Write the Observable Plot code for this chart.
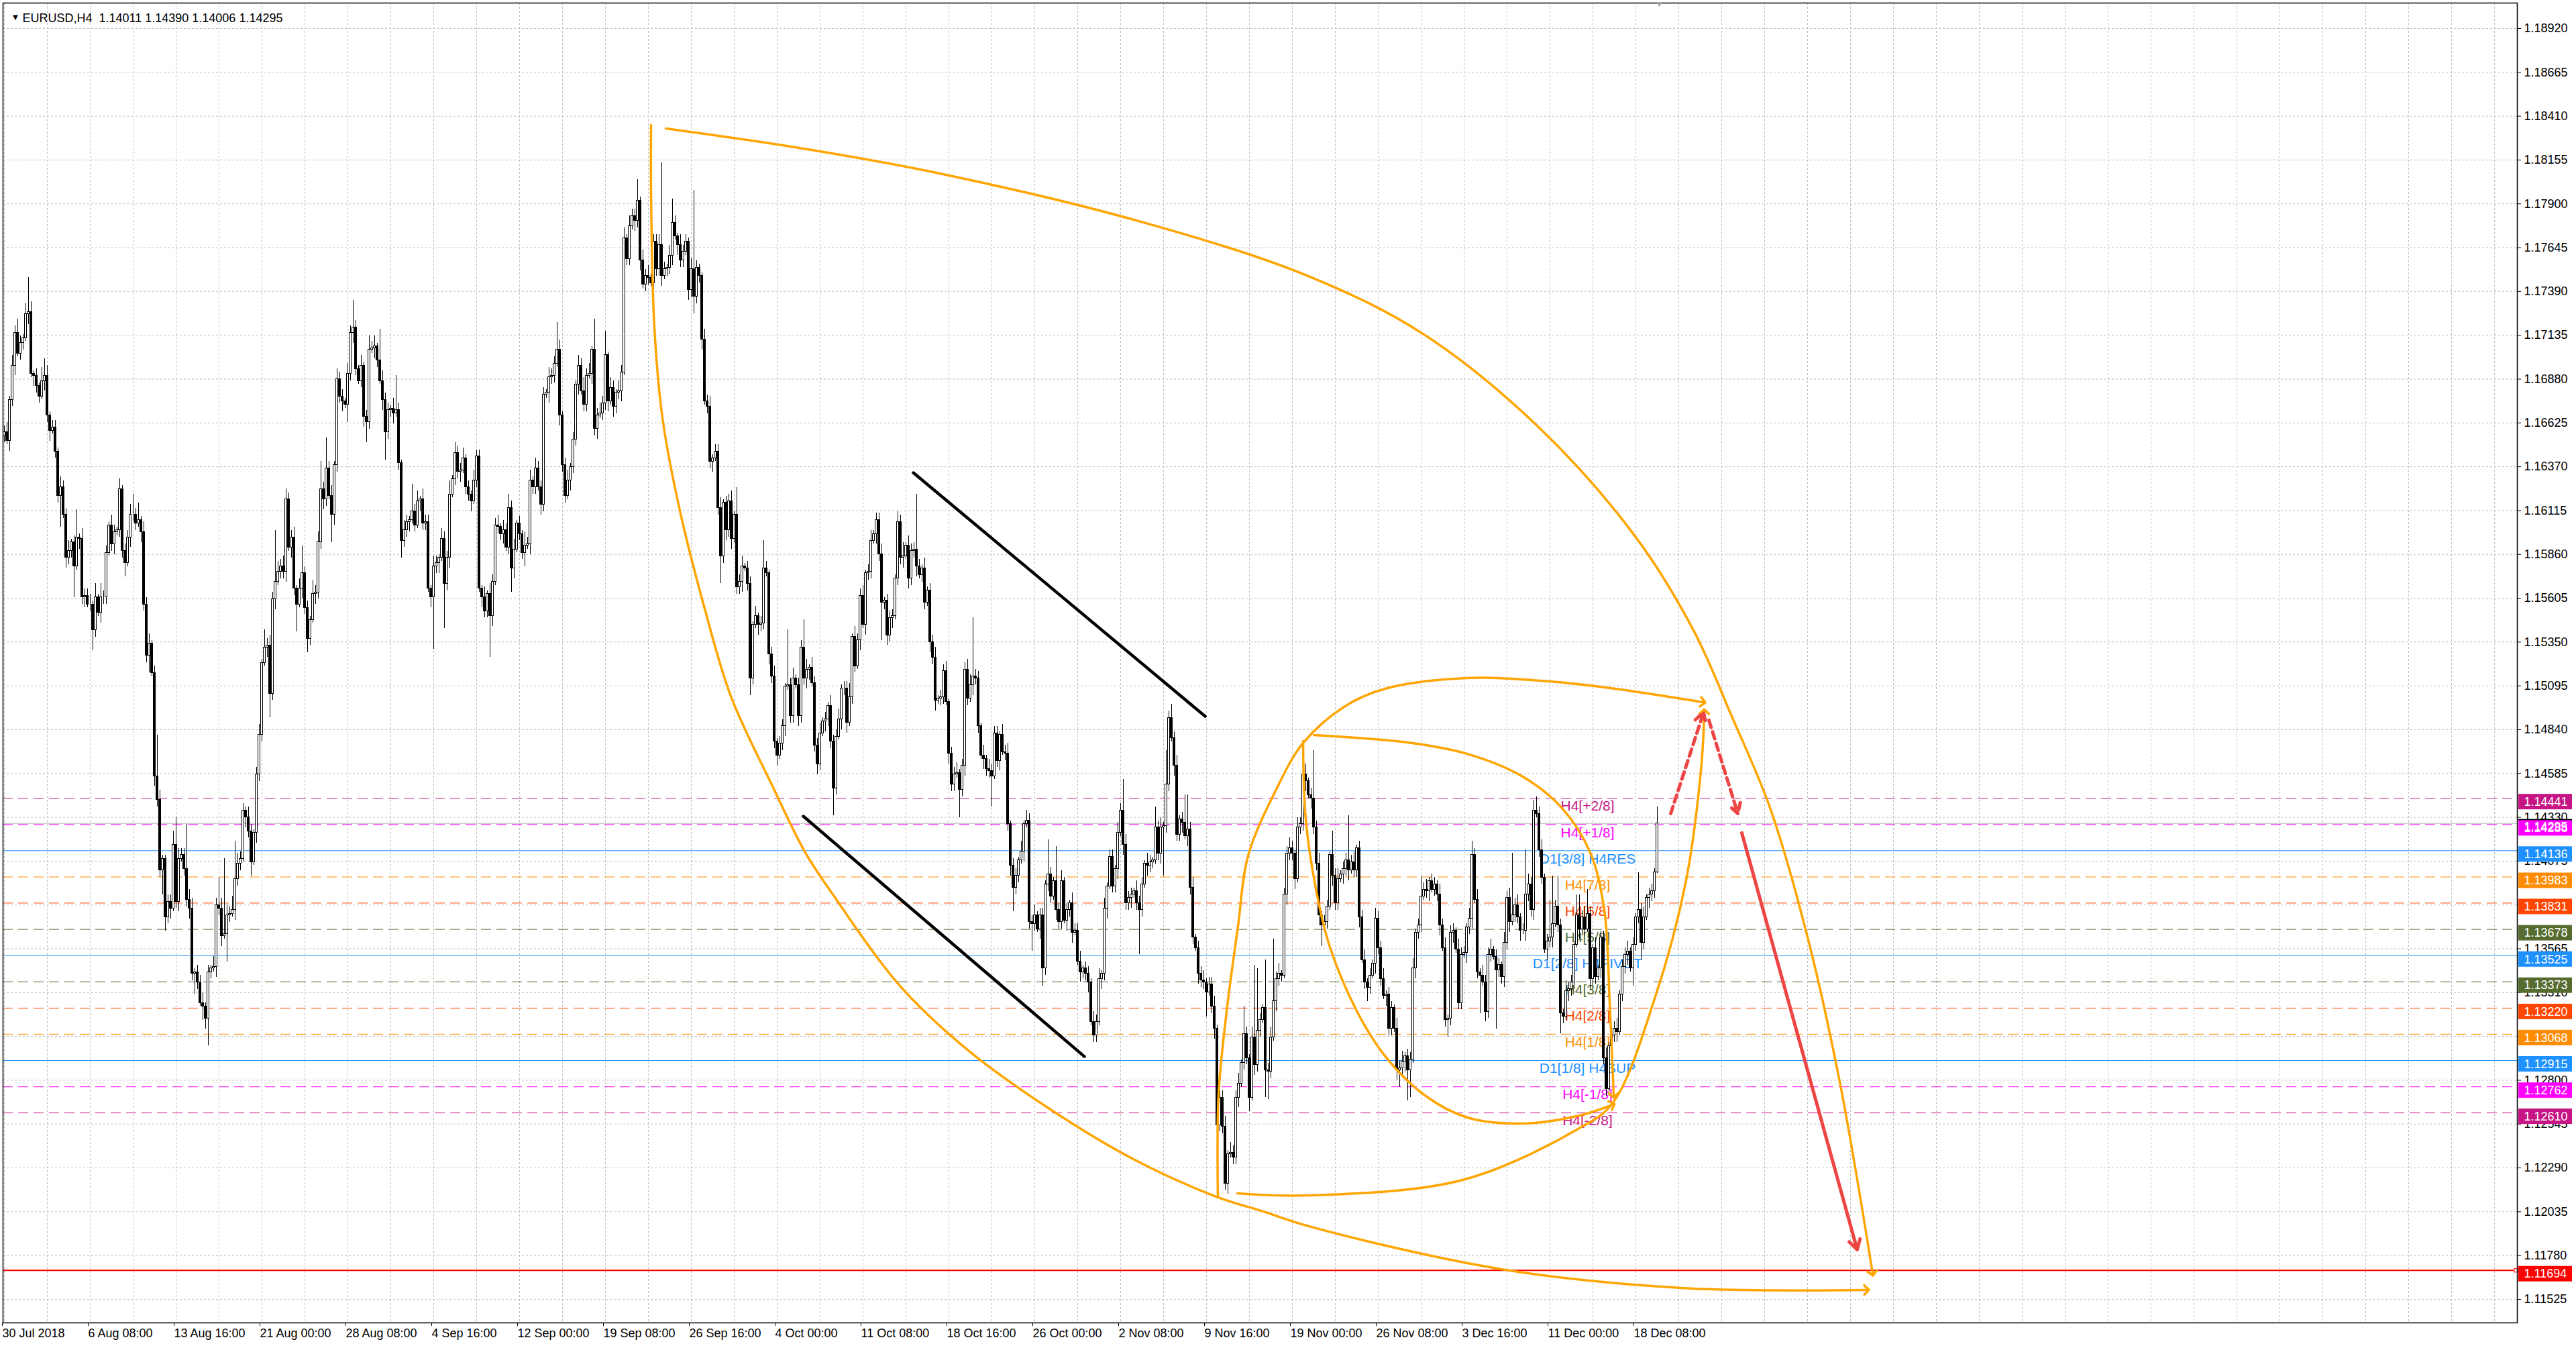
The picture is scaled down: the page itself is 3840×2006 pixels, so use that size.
<!DOCTYPE html>
<html>
<head>
<meta charset="utf-8">
<script src="https://cdn.jsdelivr.net/npm/d3@7"></script>
<script src="https://cdn.jsdelivr.net/npm/@observablehq/plot@0.6"></script>
<style>
html,body{margin:0;padding:0;background:#fff;}
#chart svg{display:block;}
</style>
</head>
<body>
<div id="chart"></div>
<script>
// ---------------- DATA ----------------
const symbolTitle = "EURUSD,H4";
const lastOHLC = [1.14011, 1.14390, 1.14006, 1.14295];
const firstOpen = 1.1655;

// H4 closes, bar 0 = 30 Jul 2018 00:00
const closes = [
1.1657,1.1652,1.1676,1.1696,1.1715,1.1703,1.1709,1.1712,1.1726,1.1727,
1.1691,1.1690,1.1684,1.1678,1.1687,1.1690,1.1667,1.1658,1.1660,1.1646,
1.1620,1.1625,1.1609,1.1584,1.1588,1.1593,1.1579,1.1596,1.1595,1.1561,
1.1562,1.1557,1.1557,1.1542,1.1561,1.1552,1.1561,1.1561,1.1587,1.1603,
1.1592,1.1599,1.1600,1.1624,1.1588,1.1581,1.1596,1.1609,1.1609,1.1604,
1.1606,1.1599,1.1557,1.1527,1.1534,1.1517,1.1457,1.1443,1.1402,1.1409,
1.1375,1.1384,1.1380,1.1417,1.1384,1.1409,1.1411,1.1403,1.1385,1.1380,
1.1342,1.1343,1.1337,1.1325,1.1323,1.1316,1.1343,1.1345,1.1346,1.1382,
1.1380,1.1364,1.1365,1.1376,1.1377,1.1379,1.1397,1.1406,1.1409,1.1437,
1.1433,1.1425,1.1407,1.1424,1.1458,1.1481,1.1523,1.1532,1.1533,1.1505,
1.1560,1.1570,1.1576,1.1579,1.1576,1.1618,1.1590,1.1596,1.1566,1.1557,
1.1566,1.1575,1.1555,1.1537,1.1548,1.1563,1.1564,1.1593,1.1624,1.1618,
1.1636,1.1620,1.1609,1.1638,1.1688,1.1678,1.1675,1.1673,1.1691,1.1715,
1.1718,1.1694,1.1687,1.1696,1.1666,1.1663,1.1705,1.1706,1.1707,1.1699,
1.1687,1.1676,1.1657,1.1670,1.1671,1.1668,1.1670,1.1639,1.1594,1.1600,
1.1605,1.1606,1.1611,1.1603,1.1617,1.1618,1.1604,1.1605,1.1566,1.1561,
1.1579,1.1581,1.1584,1.1595,1.1569,1.1584,1.1621,1.1630,1.1645,1.1634,
1.1635,1.1642,1.1625,1.1621,1.1617,1.1629,1.1643,1.1566,1.1561,1.1553,
1.1563,1.1550,1.1570,1.1603,1.1602,1.1598,1.1600,1.1590,1.1613,1.1578,
1.1589,1.1604,1.1598,1.1587,1.1591,1.1592,1.1629,1.1625,1.1636,1.1625,
1.1615,1.1679,1.1680,1.1689,1.1690,1.1697,1.1705,1.1667,1.1638,1.1620,
1.1629,1.1637,1.1653,1.1685,1.1696,1.1681,1.1673,1.1690,1.1691,1.1705,
1.1659,1.1667,1.1668,1.1674,1.1702,1.1675,1.1683,1.1672,1.1680,1.1681,
1.1692,1.1770,1.1758,1.1777,1.1783,1.1780,1.1792,1.1757,1.1743,1.1748,
1.1747,1.1744,1.1768,1.1752,1.1766,1.1748,1.1752,1.1753,1.1760,1.1779,
1.1771,1.1766,1.1757,1.1762,1.1768,1.1740,1.1752,1.1736,1.1753,1.1748,
1.1711,1.1675,1.1672,1.1640,1.1642,1.1646,1.1613,1.1585,1.1616,1.1600,
1.1617,1.1595,1.1609,1.1567,1.1570,1.1579,1.1578,1.1569,1.1514,1.1545,
1.1550,1.1545,1.1546,1.1578,1.1575,1.1528,1.1515,1.1477,1.1469,1.1476,
1.1486,1.1509,1.1510,1.1492,1.1514,1.1510,1.1492,1.1532,1.1514,1.1519,
1.1520,1.1511,1.1475,1.1464,1.1482,1.1489,1.1490,1.1498,1.1477,1.1450,
1.1480,1.1490,1.1508,1.1508,1.1488,1.1503,1.1538,1.1521,1.1536,1.1562,
1.1545,1.1575,1.1576,1.1594,1.1598,1.1606,1.1586,1.1558,1.1559,1.1539,
1.1549,1.1550,1.1572,1.1605,1.1584,1.1585,1.1591,1.1572,1.1588,1.1589,
1.1579,1.1574,1.1578,1.1558,1.1565,1.1535,1.1526,1.1501,1.1502,1.1503,
1.1518,1.1500,1.1470,1.1452,1.1458,1.1459,1.1449,1.1463,1.1519,1.1502,
1.1510,1.1515,1.1514,1.1486,1.1469,1.1467,1.1461,1.1460,1.1457,1.1482,
1.1466,1.1481,1.1471,1.1470,1.1429,1.1405,1.1392,1.1399,1.1408,1.1413,
1.1429,1.1431,1.1372,1.1371,1.1376,1.1368,1.1376,1.1345,1.1394,1.1400,
1.1387,1.1396,1.1379,1.1372,1.1396,1.1373,1.1379,1.1383,1.1366,1.1367,
1.1349,1.1343,1.1345,1.1342,1.1337,1.1314,1.1306,1.1314,1.1339,1.1342,
1.1380,1.1393,1.1410,1.1393,1.1403,1.1424,1.1437,1.1417,1.1383,1.1386,
1.1388,1.1390,1.1383,1.1379,1.1394,1.1406,1.1405,1.1407,1.1408,1.1427,
1.1412,1.1427,1.1428,1.1452,1.1491,1.1479,1.1463,1.1423,1.1432,1.1430,
1.1422,1.1426,1.1392,1.1363,1.1357,1.1342,1.1338,1.1337,1.1331,1.1336,
1.1323,1.1310,1.1254,1.1270,1.1253,1.1220,1.1237,1.1238,1.1235,1.1270,
1.1278,1.1290,1.1307,1.1293,1.1270,1.1305,1.1289,1.1309,1.1315,1.1322,
1.1286,1.1285,1.1305,1.1326,1.1339,1.1342,1.1341,1.1388,1.1412,1.1415,
1.1412,1.1397,1.1427,1.1429,1.1458,1.1454,1.1446,1.1444,1.1427,1.1406,
1.1376,1.1370,1.1372,1.1381,1.1411,1.1399,1.1383,1.1397,1.1400,1.1403,
1.1408,1.1402,1.1407,1.1402,1.1415,1.1375,1.1350,1.1337,1.1334,1.1341,
1.1348,1.1374,1.1357,1.1339,1.1329,1.1330,1.1310,1.1322,1.1310,1.1286,
1.1287,1.1291,1.1294,1.1286,1.1292,1.1345,1.1366,1.1370,1.1387,1.1391,
1.1390,1.1396,1.1391,1.1394,1.1388,1.1370,1.1357,1.1315,1.1316,1.1366,
1.1367,1.1356,1.1325,1.1353,1.1354,1.1369,1.1374,1.1411,1.1385,1.1343,
1.1341,1.1337,1.1320,1.1353,1.1356,1.1352,1.1344,1.1347,1.1340,1.1360,
1.1386,1.1372,1.1376,1.1382,1.1375,1.1367,1.1367,1.1388,1.1394,1.1379,
1.1437,1.1435,1.1414,1.1398,1.1356,1.1361,1.1363,1.1371,1.1381,1.1370,
1.1319,1.1317,1.1332,1.1333,1.1337,1.1359,1.1376,1.1368,1.1375,1.1368,
1.1377,1.1339,1.1357,1.1340,1.1345,1.1363,1.1293,1.1275,1.1300,1.1306,
1.1310,1.1308,1.1330,1.1346,1.1353,1.1355,1.1345,1.1359,1.1375,1.1379,
1.1360,1.1375,1.1386,1.1388,1.1390,1.14011,1.14295
];

// wick lengths per bar, base-36 digit, unit = 2 pips
const wickUp =
"231324213a 3121453122 1322312813 2231414221 3213122362 5132312c31 12248322d3 3122312132 83m324b322 1321231523 " +
"2f32332231 3822142382 9231322132 8213124231 932213a213 2182313221 3213224132 2312132213 1322313242 3121423132 " +
"2213228312 3121324231 9232713213 2313226132 31223o2137 2132213n21 1323122312 2318231221 3128212312 21g2312283 " +
"1322312132 2312241322 3123122312 2213241322 g213122312 2312231223 3h22131322 2132312213 132231221a 21a2312132 " +
"2312213231 3122132932 2132213216 231a242312 8a23122312 2312231322 318213li21 e23i231223 21329312e2 3122172312 " +
"2d23122312 1322312213 2312231262 3122132312 2132213423 1322312213 23i2312d32 342312be29 2132216623 7213122312 " +
"231223121b 2312215";
const wickDown =
"2132312213 1322132312 2913229132 3126213221 2312241322 1322513227 4231231223 2621438213 2318213221 3241322137 " +
"2312231328 1324213223 2183223152 3212362132 1382231252 2312132213 f231d23122 3122312132 2c31223127 3122413221 " +
"3213221322 1322312213 2312231322 3122132312 21a2231223 1322132522 3122312823 2312231252 1322132231 2312213223 " +
"3123213228 2132312213 1322132b23 2312231322 3122132312 2132218232 1322132291 2312237221 3128213522 2132213231 " +
"1322312213 2312231322 312d213221 23e2213223 1322132271 2372223122 3122413221 8821322132 2312231322 3622132213 " +
"2312231242 1322132213 5239813221 2312231252 3122132312 b13221h223 2312231322 3122132312 6213221322 1322132221 " +
"2312231522 5213220";

const priceTicks = [1.18920,1.18665,1.18410,1.18155,1.17900,1.17645,1.17390,1.17135,1.16880,1.16625,
  1.16370,1.16115,1.15860,1.15605,1.15350,1.15095,1.14840,1.14585,1.14330,1.14075,1.13820,1.13565,
  1.13310,1.13055,1.12800,1.12545,1.12290,1.12035,1.11780,1.11525];

const dateTickBars = [0,32,64,96,128,160,192,224,256,288,320,352,384,416,448,480,512,544,576,608];
const dateTickLabels = ["30 Jul 2018","6 Aug 08:00","13 Aug 16:00","21 Aug 00:00","28 Aug 08:00",
  "4 Sep 16:00","12 Sep 00:00","19 Sep 08:00","26 Sep 16:00","4 Oct 00:00","11 Oct 08:00",
  "18 Oct 16:00","26 Oct 00:00","2 Nov 08:00","9 Nov 16:00","19 Nov 00:00","26 Nov 08:00",
  "3 Dec 16:00","11 Dec 00:00","18 Dec 08:00"];
const gridBars = [0,16,32,48,64,80,96,112,128,144,160,176,192,208,224,240,256,272,288,304,320,336,
  352,368,384,400,416,432,448,464,480,496,512,528,544,560,576,592,608,624,640,656,672,688,704,720,
  736,752,768,784,800,816,832,848,864,880,896,912,928];

const murreyValues = [1.14441,1.14288,1.14136,1.13983,1.13831,1.13678,1.13525,1.13373,1.13220,1.13068,1.12915,1.12762,1.12610];
const murreyNames = ["H4[+2/8]","H4[+1/8]","D1[3/8] H4RES","H4[7/8]","H4[6/8]","H4[5/8]","D1[2/8] H4PIVOT",
  "H4[3/8]","H4[2/8]","H4[1/8]","D1[1/8] H4SUP","H4[-1/8]","H4[-2/8]"];
const murreyColors = ["#C71585","#FF00FF","#1E90FF","#FF8C00","#FF4500","#556B2F","#1E90FF",
  "#556B2F","#FF4500","#FF8C00","#1E90FF","#FF00FF","#C71585"];
const murreyIsSolid = [false,false,true,false,false,false,true,false,false,false,true,false,false];

const bidPrice = lastOHLC[3];
const targetPrice = 1.11694;

// hand-drawn objects, points as [bar, price]
const pathA1 = [[241,1.18358],[241,1.17963],[242.25,1.17179],[245.25,1.16655],[251.5,1.16132],[260.75,1.15558],
  [270.75,1.15035],[286.25,1.14512],[298.5,1.14125],[308.5,1.13887],[334,1.13345],[359.5,1.12970],[390.25,1.12626],
  [420.75,1.12341],[452.25,1.12119],[468.5,1.12040],[486,1.11951],[557.75,1.11701],[629.5,1.11588],[694,1.11580]];
const pathA2 = [[246.5,1.18338],[296.25,1.18225],[348.5,1.18077],[423.5,1.17796],[486,1.17479],[529,1.17140],
  [572,1.16597],[608,1.15960],[629.5,1.15418],[643.75,1.14918],[658.25,1.14375],[672.5,1.13602],[684,1.12790],
  [691.25,1.12154],[696.25,1.11677]];
const pathB = [[452.25,1.12119],[452.5,1.12716],[455.5,1.13200],[459.75,1.13696],[463.5,1.14106],[473.75,1.14485],
  [484,1.14762],[499.25,1.14973],[514.5,1.15078],[545.25,1.15141],[575.75,1.15121],[598.5,1.15082],[633,1.15000]];
const pathC1 = [[488,1.14809],[524.75,1.14762],[545.25,1.14699],[565.5,1.14570],[580.75,1.14379],[591,1.14125],
  [596.25,1.13790],[598.25,1.13259],[599.75,1.12712]];
const pathC2 = [[484,1.14774],[485,1.14317],[489,1.13895],[494,1.13575],[504.25,1.13196],[514.5,1.12942],
  [529.75,1.12708],[545.25,1.12583],[565.5,1.12548],[586,1.12591],[599.25,1.12657]];
const pathD = [[459.5,1.12142],[486,1.12130],[543.5,1.12220],[586.5,1.12517],[599.25,1.12665],[615.25,1.13286],
  [626.75,1.13965],[632.5,1.14645],[633.5,1.14945]];
const channelUpper = [[338.75,1.16335],[447.5,1.14918]];
const channelLower = [[297.75,1.14336],[402.5,1.12938]];
const redDashedArrows = [[621,1.14352,633.25,1.14941],[635.25,1.14895,646,1.14352]];
const redSolidArrows = [[647.5,1.14239,690.5,1.11814]];

// ---------------- BUILD ----------------
const pip = 0.0001;
const upStr = wickUp.replace(/\s/g, "");
const dnStr = wickDown.replace(/\s/g, "");
const bars = closes.map((c, i) => {
  if (i === closes.length - 1) {
    return {i, open: lastOHLC[0], high: lastOHLC[1], low: lastOHLC[2], close: lastOHLC[3]};
  }
  const open = i === 0 ? firstOpen : closes[i - 1];
  const high = Math.max(open, c) + parseInt(upStr[i], 36) * 2 * pip;
  const low = Math.min(open, c) - parseInt(dnStr[i], 36) * 2 * pip;
  return {i, open, high, low, close: c};
});

const levels = murreyValues.map((v, k) => ({value: v, name: murreyNames[k], color: murreyColors[k], solid: murreyIsSolid[k]}));
const labelOf = new Map(dateTickBars.map((b, k) => [b, dateTickLabels[k]]));

// layout
const W = 3840, H = 2006;
const mL = 4, mR = 88, mT = 4, mB = 35;
const xDomain = [-0.5, 936.5];
const yDomain = [1.113884, 1.190684];
const pricePerPx = (yDomain[1] - yDomain[0]) / (H - mT - mB);
const labelBar = 590;
const boxBar1 = 937, boxBar2 = 957, boxTextBar = 939;

const boxes = [
  {value: targetPrice, color: "#FF0000"},
  {value: bidPrice, color: "#000000"},
  ...levels.map(d => ({value: d.value, color: d.color}))
];

const orange = "#FFA500";
const pathOpts = {x: d => d[0], y: d => d[1], stroke: orange, strokeWidth: 3.5, curve: "catmull-rom", markerEnd: "arrow"};
const redColor = "#EF4444";

const chart = Plot.plot({
  width: W, height: H,
  marginLeft: mL, marginRight: mR, marginTop: mT, marginBottom: mB,
  x: {type: "linear", domain: xDomain, axis: null},
  y: {type: "linear", domain: yDomain, axis: null},
  style: {fontFamily: "'Liberation Sans', Arial, sans-serif", fontSize: "18px", background: "#fff", color: "#000", overflow: "visible"},
  marks: [
    Plot.gridX(gridBars, {stroke: "#BEBEBE", strokeOpacity: 1, strokeDasharray: "3,3"}),
    Plot.gridY(priceTicks, {stroke: "#BEBEBE", strokeOpacity: 1, strokeDasharray: "3,3"}),
    Plot.ruleY(levels.filter(d => !d.solid), {y: "value", stroke: "color", strokeWidth: 1, strokeDasharray: "15,8"}),
    Plot.ruleY(levels.filter(d => d.solid), {y: "value", stroke: "color", strokeWidth: 1}),
    Plot.ruleY([bidPrice], {y: d => d, stroke: "#AAAAAA", strokeWidth: 1}),
    Plot.ruleY([targetPrice], {y: d => d, stroke: "#FF0000", strokeWidth: 2}),
    Plot.dot([targetPrice], {x: 936, y: d => d, symbol: "square", r: 3, stroke: "#FF0000", fill: "#fff", strokeWidth: 1}),
    Plot.text(levels, {x: labelBar, y: "value", text: "name", fill: "color", dy: 12, fontSize: 21, textAnchor: "middle"}),
    // candles
    Plot.ruleX(bars, {x: "i", y1: "low", y2: "high", stroke: "#000", strokeWidth: 1, shapeRendering: "crispEdges"}),
    Plot.rect(bars, {x1: d => d.i - 0.33, x2: d => d.i + 0.33, y1: "open", y2: "close",
      fill: d => d.close >= d.open ? "#ffffff" : "#000000", stroke: "#000", strokeWidth: 1, shapeRendering: "crispEdges"}),
    // drawings
    Plot.line(channelUpper, {x: d => d[0], y: d => d[1], stroke: "#000", strokeWidth: 4.5, strokeLinecap: "round"}),
    Plot.line(channelLower, {x: d => d[0], y: d => d[1], stroke: "#000", strokeWidth: 4.5, strokeLinecap: "round"}),
    Plot.line(pathA1, pathOpts),
    Plot.line(pathA2, pathOpts),
    Plot.line(pathB, pathOpts),
    Plot.line(pathC1, pathOpts),
    Plot.line(pathC2, pathOpts),
    Plot.line(pathD, pathOpts),
    Plot.arrow(redDashedArrows, {x1: d => d[0], y1: d => d[1], x2: d => d[2], y2: d => d[3], stroke: redColor, strokeWidth: 5, strokeDasharray: "11,7", headLength: 5}),
    Plot.arrow(redSolidArrows, {x1: d => d[0], y1: d => d[1], x2: d => d[2], y2: d => d[3], stroke: redColor, strokeWidth: 5, headLength: 5}),
    // axes
    Plot.axisY(priceTicks, {anchor: "right", tickSize: 5, tickPadding: 5, tickFormat: d => d.toFixed(5), fontSize: 18, label: null}),
    Plot.axisX(dateTickBars, {anchor: "bottom", tickSize: 5, tickPadding: 4, tickFormat: d => labelOf.get(d), textAnchor: "start", dx: -3, fontSize: 18, label: null}),
    Plot.frame({stroke: "#000", strokeWidth: 1.5}),
    // price boxes on the right
    Plot.rect(boxes, {x1: boxBar1, x2: boxBar2, y1: d => d.value + 6 * pricePerPx, y2: d => d.value - 17 * pricePerPx, fill: "color"}),
    Plot.text(boxes, {x: boxTextBar, y: "value", dy: 5.5, text: d => d.value.toFixed(5), fill: "#fff", textAnchor: "start", fontSize: 18}),
    // header
    Plot.text(["\u25BC"], {frameAnchor: "top-left", dx: 12, dy: 16, fontSize: 13, fill: "#000"}),
    Plot.text([`${symbolTitle}  ${lastOHLC.map(v => v.toFixed(5)).join(" ")}`], {frameAnchor: "top-left", dx: 29, dy: 16, textAnchor: "start", fontSize: 18, fill: "#000"}),
    Plot.text(["\u25BC"], {x: bars.length - 0.25, frameAnchor: "top", dy: -2, lineAnchor: "top", fontSize: 11, fill: "#999"})
  ]
});
document.getElementById("chart").appendChild(chart);
</script>
</body>
</html>
